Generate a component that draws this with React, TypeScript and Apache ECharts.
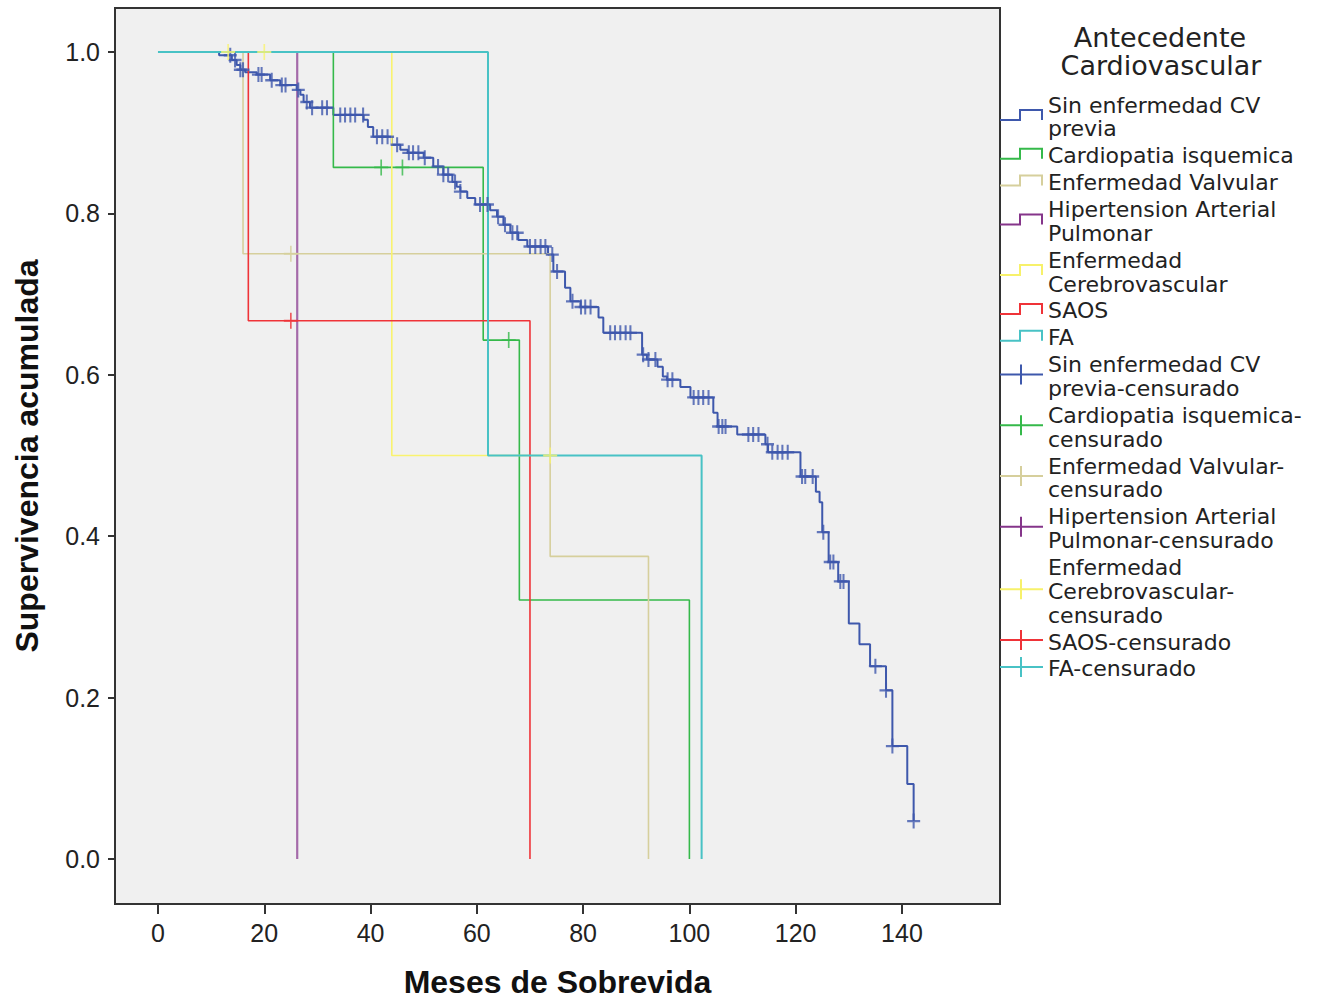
import React, { useEffect, useRef } from "react";
import * as echarts from "echarts";

const xTickValues = [0, 20, 40, 60, 80, 100, 120, 140];
const yTickValues = [0, 0.2, 0.4, 0.6, 0.8, 1.0];

const seriesNames = [
  "Sin enfermedad CV previa",
  "Cardiopatia isquemica",
  "Enfermedad Valvular",
  "Hipertension Arterial Pulmonar",
  "Enfermedad Cerebrovascular",
  "SAOS",
  "FA",
];

// [time (months), cumulative survival from that time]
const blueSteps: [number, number][] = [
  [0, 1.0], [11.5, 0.996], [13.9, 0.99], [14.8, 0.984], [15.5, 0.978], [16.4, 0.975],
  [18.6, 0.972], [21.1, 0.965], [23, 0.959], [26.1, 0.953], [26.8, 0.947], [27.4, 0.938],
  [28.6, 0.931], [33, 0.922], [38.7, 0.916], [39.5, 0.907], [40.5, 0.895], [44, 0.885],
  [45.6, 0.879], [47, 0.875], [50, 0.869], [51.8, 0.858], [53.7, 0.848], [55.4, 0.839],
  [56.2, 0.833], [56.9, 0.827], [58.2, 0.819], [59.7, 0.811], [62.5, 0.804], [63.8, 0.796],
  [65, 0.786], [66.3, 0.776], [67.8, 0.767], [69.5, 0.759], [73.4, 0.749], [74.4, 0.728],
  [76.6, 0.708], [77.6, 0.691], [79.5, 0.684], [82.9, 0.671], [83.8, 0.652], [91.1, 0.625],
  [92, 0.619], [94, 0.61], [95, 0.598], [95.8, 0.594], [98.3, 0.585], [100.2, 0.572],
  [104.5, 0.553], [105.3, 0.536], [109, 0.526], [114.3, 0.514], [114.8, 0.504], [120.9, 0.474],
  [123.8, 0.455], [124.5, 0.442], [125, 0.405], [126.2, 0.368], [128, 0.344], [130, 0.292],
  [132, 0.266], [134, 0.239], [137, 0.209], [138.2, 0.14], [141, 0.093], [142.2, 0.047],
];
const blueCensor = [
  13.6, 14.5, 15.5, 16, 18.9, 19.5, 21.4, 23.3, 24, 26.4, 28, 29, 30.9, 31.8, 34.3, 35.2,
  36.2, 37.1, 38.6, 41.2, 42.2, 43.2, 45, 47.2, 48, 49, 50.2, 52.7, 53.7, 54.6, 55.9, 56.9,
  60.6, 62, 64, 65.3, 66.7, 67.6, 70, 71, 72, 72.9, 74.2, 75.1, 78, 79.6, 80.4, 81.4, 85.1,
  86, 87, 88, 88.9, 91.3, 92.3, 93.6, 95.9, 96.8, 100.8, 101.7, 102.6, 103.6, 105.5, 106.2,
  106.8, 111.1, 112, 113, 114.7, 115.6, 116.6, 117.5, 118.5, 121.2, 121.8, 123.2, 125.2,
  126.5, 127.1, 128.4, 129, 135, 137, 138.2, 142.2,
];
const greenSteps: [number, number][] = [[0, 1], [33, 0.857], [61.2, 0.643], [68, 0.321], [100, 0]];
const greenCensor = [42, 46, 66];
const tanSteps: [number, number][] = [[0, 1], [16, 0.75], [73.8, 0.375], [92.3, 0]];
const tanCensor = [25];
const purpleSteps: [number, number][] = [[0, 1], [26.2, 0]];
const purpleCensor: number[] = [];
const yellowSteps: [number, number][] = [[0, 1], [44, 0.5], [73.8, 0.5]];
const yellowCensor = [13.2, 20, 73.8];
const redSteps: [number, number][] = [[0, 1], [17, 0.667], [70, 0]];
const redCensor = [25];
const cyanSteps: [number, number][] = [[0, 1], [62.1, 0.5], [102.3, 0]];
const cyanCensor: number[] = [];

const legendTitle = ["Antecedente", "Cardiovascular"];
const legendLines: string[][] = [
  ["Sin enfermedad CV", "previa"],
  ["Cardiopatia isquemica"],
  ["Enfermedad Valvular"],
  ["Hipertension Arterial", "Pulmonar"],
  ["Enfermedad", "Cerebrovascular"],
  ["SAOS"],
  ["FA"],
  ["Sin enfermedad CV", "previa-censurado"],
  ["Cardiopatia isquemica-", "censurado"],
  ["Enfermedad Valvular-", "censurado"],
  ["Hipertension Arterial", "Pulmonar-censurado"],
  ["Enfermedad", "Cerebrovascular-", "censurado"],
  ["SAOS-censurado"],
  ["FA-censurado"],
];

const COLORS = ["#3e58ac", "#35b94a", "#d6cf9c", "#a46aa9", "#f9f36f", "#ef3338", "#48c2c5"];
const LEGEND_COLORS = ["#3e58ac", "#35b94a", "#d6cf9c", "#85358a", "#f7f16a", "#ef3338", "#48c2c5"];

function survAt(steps: [number, number][], t: number) {
  let s = steps[0][1];
  for (const [x, y] of steps) if (x <= t) s = y;
  return s;
}

export default function App() {
  const ref = useRef<HTMLDivElement>(null);
  useEffect(() => {
    document.body.style.margin = "0";
    if (!ref.current) return;
    const chart = echarts.init(ref.current, undefined, { renderer: "svg" });

    const curves = [
      { steps: blueSteps, censor: blueCensor, width: 2, csize: [13, 15], z: 2 },
      { steps: greenSteps, censor: greenCensor, width: 1.6, csize: [14, 16], z: 2 },
      { steps: tanSteps, censor: tanCensor, width: 1.6, csize: [14, 16], z: 2 },
      { steps: purpleSteps, censor: purpleCensor, width: 2.2, csize: [14, 16], z: 1 },
      { steps: yellowSteps, censor: yellowCensor, width: 1.6, csize: [14, 16], z: 2 },
      { steps: redSteps, censor: redCensor, width: 1.6, csize: [14, 16], z: 2 },
      { steps: cyanSteps, censor: cyanCensor, width: 2, csize: [14, 16], z: 2 },
    ];

    const series: any[] = [];
    curves.forEach((c, i) => {
      series.push({
        name: seriesNames[i],
        type: "line",
        step: "end",
        showSymbol: false,
        symbol: "none",
        lineStyle: { color: COLORS[i], width: c.width },
        data: c.steps,
        z: c.z,
      });
    });
    curves.forEach((c, i) => {
      series.push({
        name: seriesNames[i] + "-censurado",
        type: "scatter",
        symbol: "path://M5 0L5 10M0 5L10 5",
        symbolSize: c.csize,
        itemStyle: { color: "none", borderColor: i === 3 ? LEGEND_COLORS[i] : COLORS[i], borderWidth: i === 0 ? 2.2 : 1.8 },
        data: c.censor.map((t) => [t, survAt(c.steps, t)]),
        z: 4,
      });
    });

    // Legend drawn as graphic elements
    const graphics: any[] = [];
    const font = "22px 'DejaVu Sans'";
    graphics.push({
      type: "text",
      x: 1160, y: 37,
      style: { text: legendTitle[0], font: "27px 'DejaVu Sans'", fill: "#222", align: "center", verticalAlign: "middle" },
    });
    graphics.push({
      type: "text",
      x: 1161, y: 65,
      style: { text: legendTitle[1], font: "27px 'DejaVu Sans'", fill: "#222", align: "center", verticalAlign: "middle" },
    });
    let y = 105;
    const within = 23.8;
    const between = 26.9;
    legendLines.forEach((lines, idx) => {
      const first = y;
      lines.forEach((ln, k) => {
        if (k > 0) y += within;
        graphics.push({
          type: "text",
          x: 1048, y,
          style: { text: ln, font, fill: "#222", align: "left", verticalAlign: "middle" },
        });
      });
      const center = (first + y) / 2;
      const ci = idx % 7;
      const color = LEGEND_COLORS[ci];
      if (idx < 7) {
        const low = center + 3, high = center - 7;
        graphics.push({
          type: "polyline",
          shape: { points: [[1000, low], [1020, low], [1020, high], [1042, high], [1042, low]] },
          style: { stroke: color, lineWidth: 2, fill: "none" },
        });
      } else {
        const h = center - 2;
        graphics.push({
          type: "line",
          shape: { x1: 1000, y1: h, x2: 1043, y2: h },
          style: { stroke: color, lineWidth: 2 },
        });
        graphics.push({
          type: "line",
          shape: { x1: 1021, y1: h - 10, x2: 1021, y2: h + 10 },
          style: { stroke: color, lineWidth: 2 },
        });
      }
      y += between;
    });

    chart.setOption({
      animation: false,
      backgroundColor: "#ffffff",
      grid: {
        left: 115, right: 331, top: 8, bottom: 98,
        show: true, backgroundColor: "#f0f0f0", borderColor: "#333", borderWidth: 2,
      },
      xAxis: {
        type: "value",
        min: -8.09, max: 158.45,
        name: "Meses de Sobrevida",
        nameLocation: "middle",
        nameGap: 62,
        nameTextStyle: { fontFamily: "Liberation Sans", fontWeight: "bold", fontSize: 32, color: "#111" },
        axisLine: { show: true, onZero: false, lineStyle: { color: "#333", width: 2 } },
        axisTick: { show: true, length: 10, customValues: xTickValues, lineStyle: { color: "#333", width: 2 } },
        axisLabel: { customValues: xTickValues, margin: 16, fontFamily: "Liberation Sans", fontSize: 25, color: "#222" },
        splitLine: { show: false },
      },
      yAxis: {
        type: "value",
        min: -0.0557, max: 1.0545,
        name: "Supervivencia acumulada",
        nameLocation: "middle",
        nameGap: 72,
        nameRotate: 90,
        nameTextStyle: { fontFamily: "Liberation Sans", fontWeight: "bold", fontSize: 32, color: "#111" },
        axisLine: { show: true, onZero: false, lineStyle: { color: "#333", width: 2 } },
        axisTick: { show: true, length: 7, customValues: yTickValues, lineStyle: { color: "#333", width: 2 } },
        axisLabel: {
          customValues: yTickValues, margin: 15, fontFamily: "Liberation Sans", fontSize: 25, color: "#222",
          formatter: (v: number) => v.toFixed(1),
        },
        splitLine: { show: false },
      },
      graphic: graphics,
      series,
    });
    return () => chart.dispose();
  }, []);
  return <div ref={ref} style={{ width: 1331, height: 1003 }} />;
}
